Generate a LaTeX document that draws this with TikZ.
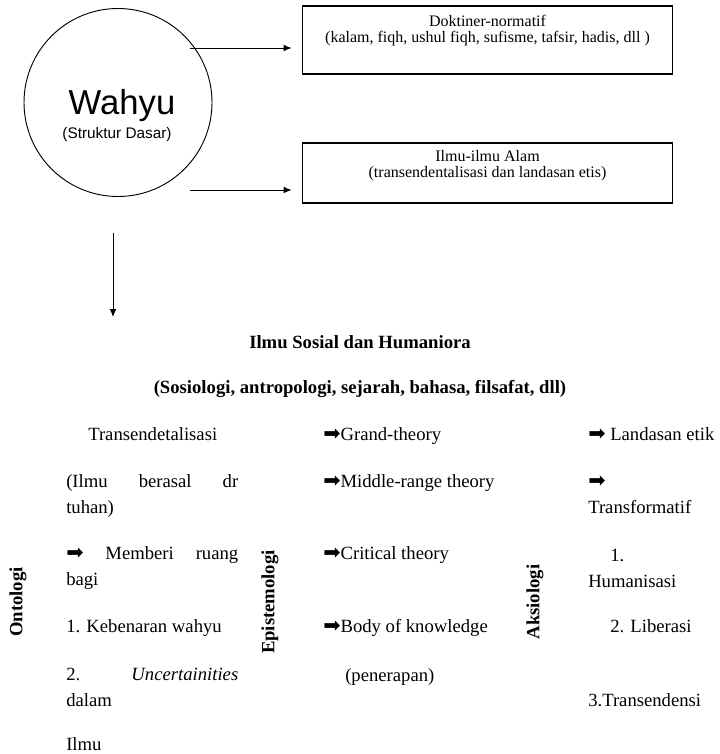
\documentclass[tikz,border=0pt]{standalone}
\usepackage{fontspec}
\usetikzlibrary{arrows.meta}
\setmainfont{Liberation Serif}
\newfontfamily\wahyufont{Liberation Sans}
\newfontfamily\arrowfont{DejaVu Sans}

\tikzstyle{kotak}=[draw,rectangle,minimum width=278pt,inner sep=0pt,line width=0.8pt]
\tikzstyle{isikotak}=[anchor=base,inner sep=0pt,font=\fontsize{12}{14}\selectfont]
\tikzstyle{isi}=[anchor=base west,inner sep=0pt,font=\fontsize{14}{17}\selectfont]
\tikzstyle{judul}=[anchor=base,inner sep=0pt,font=\fontsize{14}{17}\selectfont\bfseries]
\tikzstyle{aspek}=[rotate=90,inner sep=0pt,font=\fontsize{14}{17}\selectfont\bfseries]
\newcommand{\panah}{{\arrowfont\fontsize{15.5}{17}\selectfont ➡}}

\begin{document}
\begin{tikzpicture}[x=0.75pt,y=-0.75pt]
\useasboundingbox (0,0) rectangle (719,754);
			\begin{scope}[>={Latex[length=6pt,width=5pt]}]
				% wahyu
				\node (W) [draw,circle,minimum size=141pt,inner sep=0pt,line width=0.7pt] at (118,102.5) {};
				\node (W1) [anchor=base,inner sep=0pt,font=\wahyufont\fontsize{26}{30}\selectfont] at (122,114) {Wahyu};
				\node (W2) [anchor=base,inner sep=0pt,font=\wahyufont\fontsize{11.5}{13}\selectfont] at (117,138) {(Struktur Dasar)};

				% kotak kanan
				\node (D) [kotak,minimum height=51pt] at (487.5,40) {};
				\node (D1) [isikotak] at (487.5,26) {Doktiner-normatif};
				\node (D2) [isikotak] at (487.5,42) {(kalam, fiqh, ushul fiqh, sufisme, tafsir, hadis, dll )};
				\node (A) [kotak,minimum height=45pt] at (487.5,173) {};
				\node (A1) [isikotak] at (487.5,161) {Ilmu-ilmu Alam};
				\node (A2) [isikotak] at (487.5,177) {(transendentalisasi dan landasan etis)};

				\coordinate (s1) at (190,48);
				\coordinate (s2) at (190,190);
				\coordinate (t1) at (113,233);
				\coordinate (t2) at (113,317);
				\draw[->,line width=0.7pt,shorten >=7.5pt] (s1) -- (s1 -| D.west);
				\draw[->,line width=0.7pt,shorten >=7.5pt] (s2) -- (s2 -| A.west);
				\draw[->,line width=0.7pt] (t1) -- (t2);

				% ilmu sosial
				\node (S1) [judul] at (360,348) {Ilmu Sosial dan Humaniora};
				\node (S2) [judul] at (360,393) {(Sosiologi, antropologi, sejarah, bahasa, filsafat, dll)};

				\foreach \nm/\x/\t in {onto/18/Ontologi, epis/270/Epistemologi, aksi/535/Aksiologi}
					\node (\nm) [aspek] at (\x,602) {\t};

				% ontologi
				\foreach \nr/\x/\y/\t in {1/88/440/Transendetalisasi,
						2/66/487/{\makebox[129pt][s]{(Ilmu berasal dr}},
						3/66/513/{tuhan)},
						4/66/559/{\makebox[129pt][s]{\panah{} Memberi ruang}},
						5/66/585/bagi,
						6/66/632/{1. Kebenaran wahyu},
						7/66/680/{\makebox[129pt][s]{2. \textit{Uncertainities}}},
						8/66/706/dalam,
						9/66/750/Ilmu}
					\node (O\nr) [isi] at (\x,\y) {\t};

				% epistemologi
				\foreach \nr/\y/\t in {1/440/Grand-theory, 2/487/Middle-range theory, 3/559/Critical theory, 4/632/Body of knowledge}
					\node (E\nr) [isi] at (323,\y) {\panah\t};
				\node (E5) [isi] at (345,681) {(penerapan)};

				% aksiologi
				\node (K1) [isi] at (588,440) {\panah{} Landasan etik};
				\node (K2) [isi] at (588,487) {\panah};
				\node (K3) [isi] at (588,513) {Transformatif};
				\node (K4) [isi] at (610,561) {1.};
				\node (K5) [isi] at (588,587) {Humanisasi};
				\node (K6) [isi] at (610,632) {2. Liberasi};
				\node (K7) [isi] at (588,706) {3.Transendensi};
			\end{scope}
\end{tikzpicture}
\end{document}
